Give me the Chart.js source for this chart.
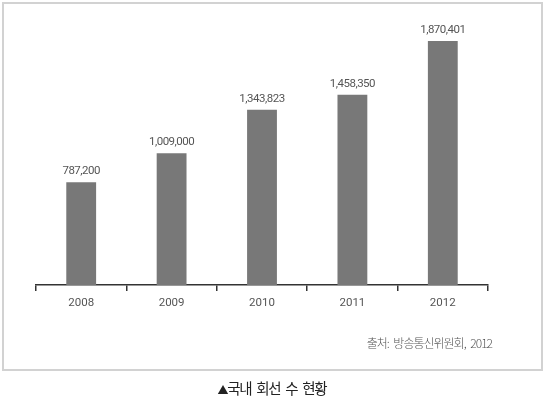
<!DOCTYPE html>
<html>
<head>
<meta charset="utf-8">
<script src="https://cdn.jsdelivr.net/npm/chart.js@4.4.1/dist/chart.umd.min.js"></script>
<style>
  html, body { margin: 0; padding: 0; background: #fff; }
  #wrap { position: relative; width: 546px; height: 399px; overflow: hidden; }
  #frame { position: absolute; left: 2px; top: 2px; width: 537px; height: 365px; border: 2px solid #d2d2d2; }
  #c { position: absolute; left: 0; top: 0; }
  #source { position: absolute; right: 54px; top: 334px; font: 300 12px "Noto Sans CJK KR", sans-serif; letter-spacing: -1px; word-spacing: 3px; color: #555; white-space: pre; line-height: 18px; }
  #caption { position: absolute; left: 0; width: 544px; text-align: center; top: 378px; font: 14.5px "Noto Sans CJK KR", sans-serif; letter-spacing: -1.3px; word-spacing: 3px; color: #222; white-space: pre; line-height: 20px; }
  #caption .tri { font-size: 11px; }
</style>
</head>
<body>
<div id="wrap">
  <div id="frame"></div>
  <canvas id="c" width="546" height="399"></canvas>
  <div id="source">출처: 방송통신위원회, 2012</div>
  <div id="caption"><span class="tri">▲</span>국내 회선 수 현황</div>
</div>
<script>
const years = ["2008", "2009", "2010", "2011", "2012"];
const lines = [787200, 1009000, 1343823, 1458350, 1870401];

const valueLabels = {
  id: 'valueLabels',
  afterDatasetsDraw(chart) {
    const ctx = chart.ctx;
    const meta = chart.getDatasetMeta(0);
    ctx.save();
    ctx.font = '11.5px Roboto, "Noto Sans", sans-serif';
    ctx.letterSpacing = '-0.5px';
    ctx.fillStyle = '#555';
    ctx.textAlign = 'center';
    ctx.textBaseline = 'bottom';
    meta.data.forEach((bar, i) => {
      ctx.fillText(lines[i].toLocaleString('en-US'), bar.x, bar.y - 5);
    });
    ctx.restore();
  }
};

new Chart(document.getElementById('c'), {
  type: 'bar',
  data: {
    labels: years,
    datasets: [{
      data: lines,
      backgroundColor: '#787878',
      borderWidth: 0,
      barPercentage: 0.33,
      categoryPercentage: 1.0
    }]
  },
  options: {
    responsive: false,
    animation: false,
    events: [],
    layout: { padding: { left: 36, right: 58, top: 24, bottom: 84 } },
    plugins: { legend: { display: false }, tooltip: { enabled: false } },
    scales: {
      x: {
        offset: true,
        grid: { display: true, drawOnChartArea: false, drawTicks: true, tickLength: 6, color: '#333', lineWidth: 1.5, offset: true },
        border: { display: true, color: '#333', width: 1.5 },
        ticks: { color: '#555', font: { family: 'Roboto, "Noto Sans", sans-serif', size: 11.5 }, padding: 5 },
        afterFit: s => { s.height = 30; }
      },
      y: {
        display: false,
        min: 0,
        max: 2000000
      }
    }
  },
  plugins: [valueLabels]
});
</script>
</body>
</html>
